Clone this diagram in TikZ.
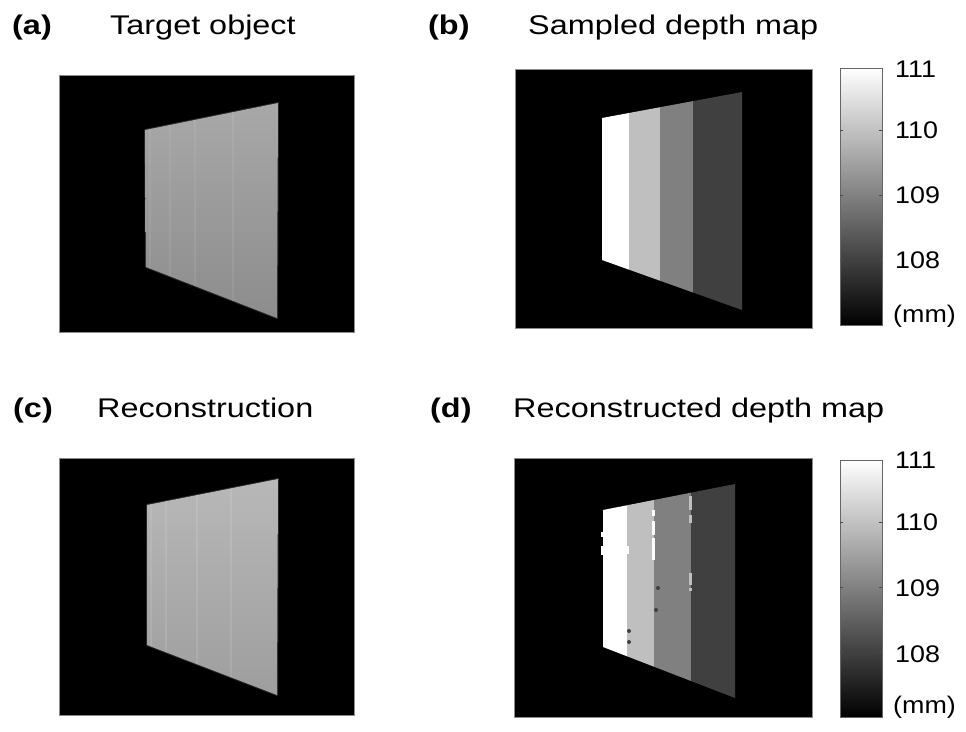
\documentclass[tikz,border=0pt]{standalone}
\usepackage{fontspec}
\setmainfont{Liberation Sans}
\newfontfamily\headfont[FakeStretch=1.2]{Liberation Sans}
\newfontfamily\barfont[FakeStretch=1.12]{Liberation Sans}
\usetikzlibrary{positioning}

\definecolor{stripA}{gray}{0.75}
\definecolor{stripB}{gray}{0.50}
\definecolor{stripC}{gray}{0.25}

\begin{document}
\begin{tikzpicture}[x=1pt,y=-1pt,
  every node/.style={inner sep=0pt},
  tag/.style={anchor=base west,font=\headfont\bfseries\fontsize{27}{27}\selectfont},
  title/.style={anchor=base west,font=\headfont\fontsize{27}{27}\selectfont},
  barlabel/.style={anchor=west,font=\barfont\fontsize{24}{24}\selectfont},
  frame/.style={fill=black,draw=black!45,line width=0.8pt},
  halo/.style={draw=black!85,line width=2pt,line join=round},
  streak/.style={white,opacity=0.07,line width=1.5pt},
  cbar/.style={bottom color=black,top color=white,draw=black!60,line width=0.8pt},
  bartick/.style={black!70,line width=0.8pt}]

  \useasboundingbox (0,0) rectangle (966,731);

  % (a) target object
  \node[tag] (taga) at (12,34) {(a)};
  \node[title] (titlea) at (110,34) {Target object};
  \filldraw[frame] (59,75) rectangle (354,332);
  \draw[halo] (145,130) -- (278,103) -- (277,318) -- (146,267) -- cycle;
  \shade[top color=black!34,middle color=black!38,bottom color=black!45]
    (145,130) -- (278,103) -- (277,318) -- (146,267) -- cycle;
  \begin{scope}
    \clip (145,130) -- (278,103) -- (277,318) -- (146,267) -- cycle;
    \foreach \sx in {150,170,195,233}
      \draw[streak] (\sx,95) -- (\sx,325);
  \end{scope}

  % (b) sampled depth map
  \node[tag] (tagb) at (428,34) {(b)};
  \node[title] (titleb) at (528,34) {Sampled depth map};
  \filldraw[frame] (515,69) rectangle (812,328);
  \foreach \xa/\xb/\col in {602/629/white,629/660/stripA,660/693/stripB,693/742/stripC}
    \fill[\col] (\xa,{118-(\xa-602)*26/140}) -- (\xb,{118-(\xb-602)*26/140})
      -- (\xb,{260+(\xb-602)*50/140}) -- (\xa,{260+(\xa-602)*50/140}) -- cycle;

  \shade[cbar] (840,68) rectangle (882,325);
  \foreach \ty in {130,195,260} {
    \draw[bartick] (840,\ty) -- ++(3,0);
    \draw[bartick] (882,\ty) -- ++(-3,0);
  }
  \foreach \val/\ty in {111/69,110/130,109/195,108/260}
    \node[barlabel] (vb\val) at (895,\ty) {\val};
  \node[barlabel] (unitb) at (893,316) {(mm)};

  % (c) reconstruction
  \node[tag] (tagc) at (13,417) {(c)};
  \node[title] (titlec) at (97,417) {Reconstruction};
  \filldraw[frame] (59,458) rectangle (354,715);
  \draw[halo] (147,505) -- (278,479) -- (277,695) -- (147,645) -- cycle;
  \shade[top color=black!28,middle color=black!32,bottom color=black!38]
    (147,505) -- (278,479) -- (277,695) -- (147,645) -- cycle;
  \begin{scope}
    \clip (147,505) -- (278,479) -- (277,695) -- (147,645) -- cycle;
    \foreach \sx in {151,166,197,231}
      \draw[streak,opacity=0.1] (\sx,470) -- (\sx,700);
  \end{scope}

  % (d) reconstructed depth map
  \node[tag] (tagd) at (430,417) {(d)};
  \node[title] (titled) at (513,417) {Reconstructed depth map};
  \filldraw[frame] (514,458) rectangle (812,717);
  \foreach \xa/\xb/\col in {603/627/white,627/654/stripA,654/691/stripB,691/735/stripC}
    \fill[\col] (\xa,{510-(\xa-603)*26/132}) -- (\xb,{510-(\xb-603)*26/132})
      -- (\xb,{647+(\xb-603)*51/132}) -- (\xa,{647+(\xa-603)*51/132}) -- cycle;
  % ragged edges and holes
  \fill[white] (601,532) rectangle (604,537);
  \fill[white] (601,546) rectangle (604,555);
  \fill[white] (626,546) rectangle (629,554);
  \foreach \ya/\yb in {510/516,521/535,538/560}
    \fill[white] (652,\ya) rectangle (655,\yb);
  \foreach \ya/\yb in {496/510,515/523,573/585,588/591}
    \fill[stripA] (689,\ya) rectangle (692,\yb);
  \foreach \px/\py in {658/588,656/610,629/631,629/642}
    \fill[black!75] (\px,\py) circle (2);

  \shade[cbar] (840,460) rectangle (882,717);
  \foreach \ty in {522,587,652} {
    \draw[bartick] (840,\ty) -- ++(3,0);
    \draw[bartick] (882,\ty) -- ++(-3,0);
  }
  \foreach \val/\ty in {111/460,110/522,109/588,108/654}
    \node[barlabel] (vd\val) at (895,\ty) {\val};
  \node[barlabel] (unitd) at (893,707) {(mm)};
\end{tikzpicture}
\end{document}
